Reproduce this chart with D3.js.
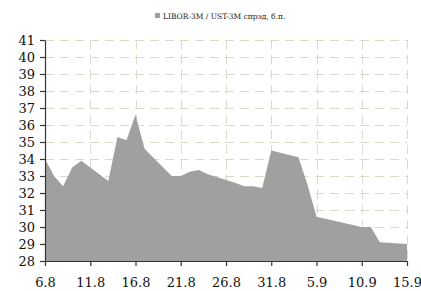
<!DOCTYPE html>
<html>
<head>
<meta charset="utf-8">
<script src="https://cdn.jsdelivr.net/npm/d3@7"></script>
<style>
  body { margin: 0; background: #fff; }
  svg { display: block; }
</style>
</head>
<body>
<div id="chart"></div>
<script>
// LIBOR-3M / UST-3M spread, bp (vertices)
var dates = ["2012-08-06", "2012-08-07", "2012-08-08", "2012-08-09", "2012-08-10",
             "2012-08-13", "2012-08-14", "2012-08-15", "2012-08-16", "2012-08-17",
             "2012-08-20", "2012-08-21", "2012-08-22", "2012-08-23", "2012-08-24",
             "2012-08-27", "2012-08-28", "2012-08-29", "2012-08-30", "2012-08-31",
             "2012-09-03", "2012-09-04", "2012-09-05", "2012-09-10", "2012-09-11",
             "2012-09-12", "2012-09-15"];
var spread = [34.0, 33.0, 32.4, 33.5, 33.9,
              32.7, 35.3, 35.1, 36.6, 34.6,
              33.0, 33.0, 33.25, 33.35, 33.1,
              32.6, 32.4, 32.4, 32.3, 34.5,
              34.1, 32.5, 30.6, 30.0, 30.0,
              29.1, 29.0];
var tickDates = ["2012-08-06", "2012-08-11", "2012-08-16", "2012-08-21", "2012-08-26",
                 "2012-08-31", "2012-09-05", "2012-09-10", "2012-09-15"];
var tickLabels = ["6.8", "11.8", "16.8", "21.8", "26.8", "31.8", "5.9", "10.9", "15.9"];
var yTicks = d3.range(28, 42);
var seriesName = "LIBOR-3M / UST-3M спрэд, б.п.";

var margin = { top: 40, left: 45, right: 14, bottom: 30 };
var width = 421 - margin.left - margin.right;
var height = 291 - margin.top - margin.bottom;
var parse = d3.utcParse("%Y-%m-%d");
var font = "Georgia, 'DejaVu Serif', serif";

var data = dates.map(function(d, i) { return { date: parse(d), value: spread[i] }; });

var svg = d3.select("#chart").append("svg")
    .attr("width", 421)
    .attr("height", 291);

var g = svg.append("g")
    .attr("transform", "translate(" + margin.left + "," + margin.top + ")");

var x = d3.scaleUtc()
    .domain([parse(tickDates[0]), parse(tickDates[tickDates.length - 1])])
    .range([0, width]);

var y = d3.scaleLinear()
    .domain([28, 41])
    .range([height, 0]);

// Grid
g.append("g")
  .selectAll("line")
  .data(yTicks.slice(1))
  .enter().append("line")
  .attr("x1", 0)
  .attr("x2", width)
  .attr("y1", function(d) { return Math.round(y(d)) + 0.5; })
  .attr("y2", function(d) { return Math.round(y(d)) + 0.5; })
  .style("stroke", "#dcd8cc")
  .style("stroke-dasharray", "9,6");

g.append("g")
  .selectAll("line")
  .data(tickDates.slice(1))
  .enter().append("line")
  .attr("x1", function(d) { return Math.round(x(parse(d))) + 0.5; })
  .attr("x2", function(d) { return Math.round(x(parse(d))) + 0.5; })
  .attr("y1", 0)
  .attr("y2", height)
  .style("stroke", "#dcd8cc")
  .style("stroke-dasharray", "9,6");

// Area
var area = d3.area()
    .x(function(d) { return x(d.date); })
    .y0(y(28))
    .y1(function(d) { return y(d.value); });

g.append("path")
  .datum(data)
  .attr("d", area)
  .style("fill", "#a0a0a0");

// Axes
var yAxis = g.append("g")
    .call(d3.axisLeft(y).tickValues(yTicks).tickFormat(d3.format("d")).tickSize(5).tickSizeOuter(0));

var xAxis = g.append("g")
    .attr("transform", "translate(0," + height + ")")
    .call(d3.axisBottom(x)
      .tickValues(tickDates.map(parse))
      .tickFormat(function(d, i) { return tickLabels[i]; })
      .tickSize(5)
      .tickSizeOuter(0));

[yAxis, xAxis].forEach(function(a) {
  a.selectAll("path, line").style("stroke", "#333").style("stroke-width", 1.2);
  a.selectAll("text")
    .style("font-family", font)
    .style("font-size", "13px")
    .style("fill", "#111");
});
yAxis.selectAll("text").attr("x", -10).attr("dy", "0.35em");
xAxis.selectAll("text").attr("y", 17);

// Legend
var legend = svg.append("g")
    .attr("transform", "translate(155,13)");

legend.append("rect")
  .attr("width", 5)
  .attr("height", 5)
  .style("fill", "#a0a0a0");

legend.append("text")
  .attr("x", 8)
  .attr("y", 5.5)
  .style("font-family", font)
  .style("font-size", "7.5px")
  .style("fill", "#222")
  .text(seriesName);
</script>
</body>
</html>
